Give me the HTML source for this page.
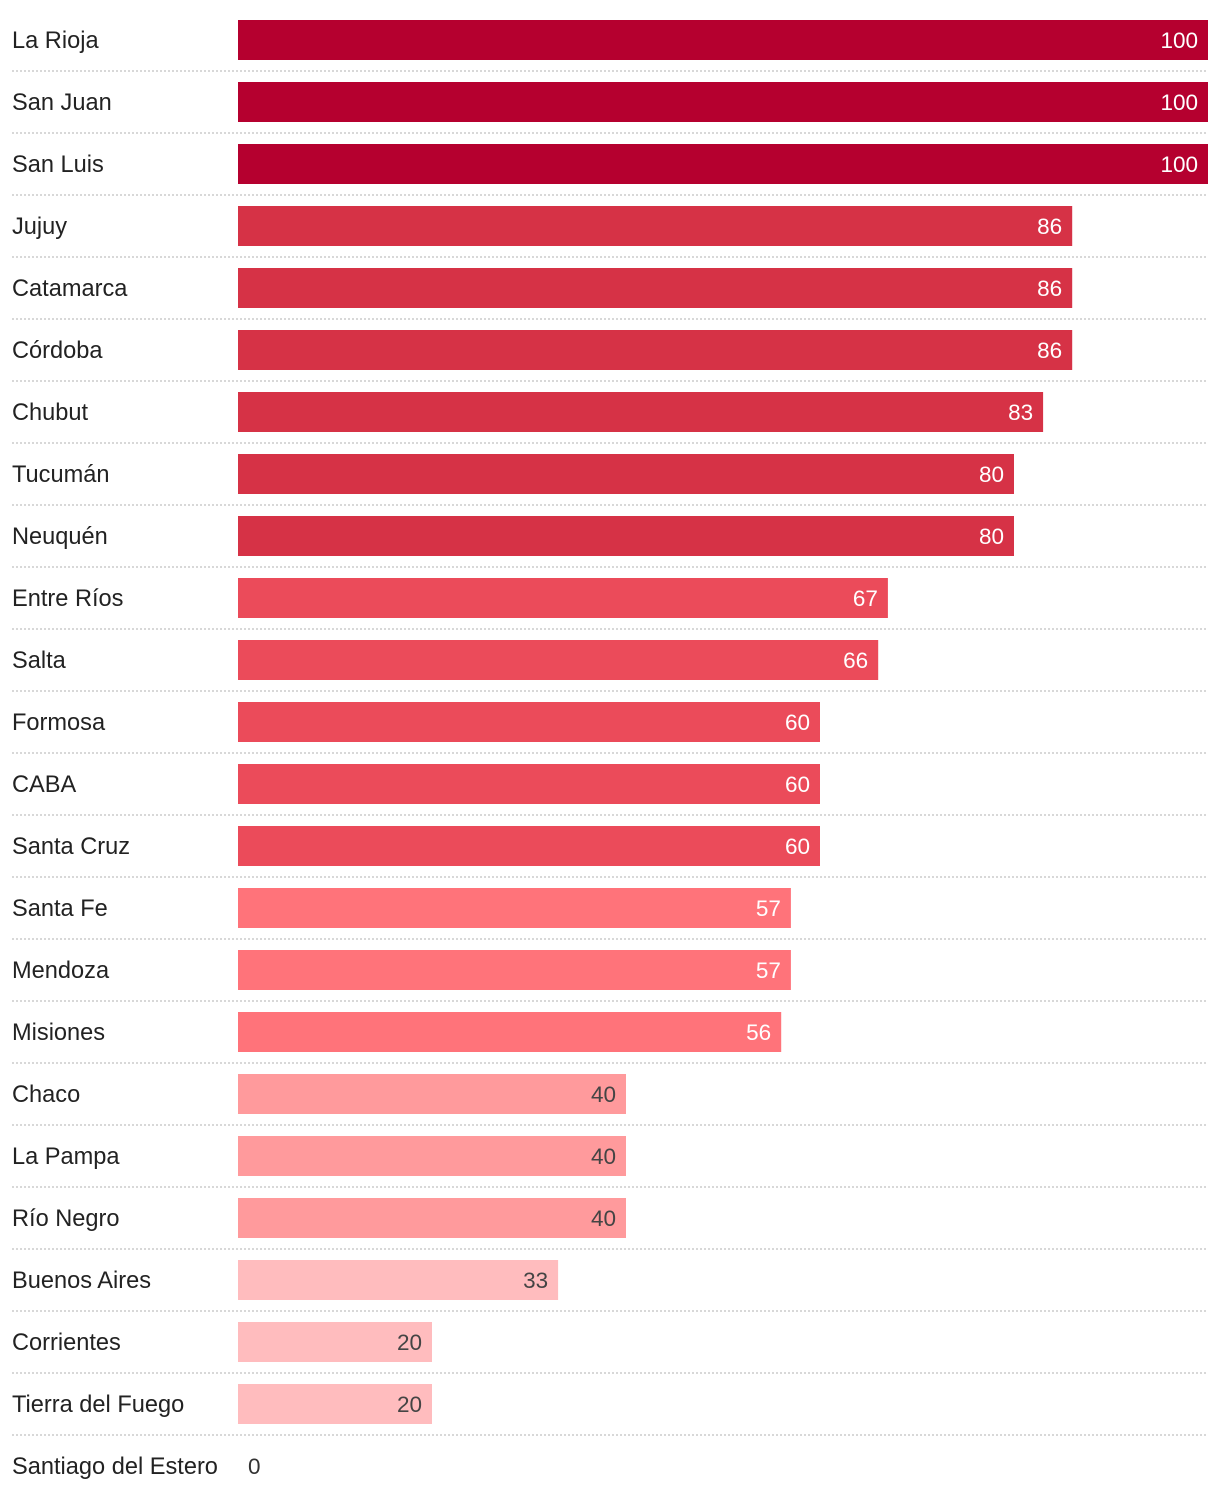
<!DOCTYPE html>
<html><head><meta charset="utf-8"><style>
body{margin:0;background:#fff;width:1220px;height:1506px;overflow:hidden;font-family:"Liberation Sans",sans-serif}
svg text{font-family:"Liberation Sans",sans-serif}
</style></head><body>
<svg id="chart" width="1220" height="1506" xmlns="http://www.w3.org/2000/svg"></svg>
<script>
const categories=["La Rioja","San Juan","San Luis","Jujuy","Catamarca","Córdoba","Chubut","Tucumán","Neuquén","Entre Ríos","Salta","Formosa","CABA","Santa Cruz","Santa Fe","Mendoza","Misiones","Chaco","La Pampa","Río Negro","Buenos Aires","Corrientes","Tierra del Fuego","Santiago del Estero"];
const values=[100,100,100,86,86,86,83,80,80,67,66,60,60,60,57,57,56,40,40,40,33,20,20,0];
const svg=document.getElementById('chart');
const NS='http://www.w3.org/2000/svg';
const x0=238,xw=970,rowH=62,top0=20,barH=40;
const xs=v=>x0+xw*v/100;
const ys=i=>top0+rowH*i;
function color(v){if(v>=100)return'#b5002f';if(v>=70)return'#d63246';if(v>=60)return'#eb4b5a';if(v>=50)return'#ff737a';if(v>=40)return'#ff9a9c';return'#ffbcbe';}
function mk(t,a){const e=document.createElementNS(NS,t);for(const k in a)e.setAttribute(k,a[k]);svg.appendChild(e);return e;}
categories.forEach((c,i)=>{
  const y=ys(i),v=values[i];
  const lab=mk('text',{x:12,y:y+28,'font-size':23.6,fill:'#222'});
  lab.textContent=c;
  
  
  if(v>0){
    const r=mk('rect',{x:x0,y:y,width:xs(v)-x0,height:barH,fill:color(v)});
    
    
    const t=mk('text',{x:xs(v)-10,y:y+28,'font-size':22.5,'text-anchor':'end',fill:v>=50?'#fff':'#444'});
    t.textContent=v;
    
    
  } else {
    const t=mk('text',{x:x0+10,y:y+28,'font-size':22.5,fill:'#333'});
    t.textContent=v;
    
    
  }
  if(i<categories.length-1){
    const l=mk('line',{x1:12,x2:1208,y1:y+barH+11,y2:y+barH+11,stroke:'#ccc','stroke-width':1.5,'stroke-dasharray':'2 2'});
    
    
  }
});
</script>
</body></html>
